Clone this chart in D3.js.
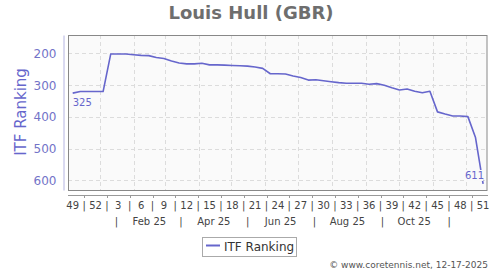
<!DOCTYPE html>
<html>
<head>
<meta charset="utf-8">
<script src="https://cdn.jsdelivr.net/npm/d3@7"></script>
<style>
  body { margin: 0; background: #fff; }
  text { font-family: "DejaVu Sans", sans-serif; }
</style>
</head>
<body>
<svg width="500" height="270"></svg>
<script>
// ITF ranking, weekly, week 49 of 2024 to week 51 of 2025
var weeks = [49, 50, 51, 52, 1, 2, 3, 4, 5, 6, 7, 8, 9, 10, 11, 12, 13, 14, 15, 16,
             17, 18, 19, 20, 21, 22, 23, 24, 25, 26, 27, 28, 29, 30, 31, 32, 33, 34, 35, 36,
             37, 38, 39, 40, 41, 42, 43, 44, 45, 46, 47, 48, 49, 50, 51];
var ranks = [325, 320, 320, 320, 320, 202, 202, 202, 204, 206, 207, 213, 216, 224, 230, 233, 233, 231, 236, 236,
             237, 238, 239, 240, 243, 247, 264, 264, 265, 271, 276, 284, 283, 286, 289, 292, 294, 294, 294, 297,
             295, 300, 308, 315, 312, 319, 324, 319, 384, 391, 397, 397, 399, 465, 611];
var firstDate = "2024-12-07", lastDate = "2025-12-17";
var yTicks = [200, 300, 400, 500, 600];
var monthLabels = ["Feb 25", "Apr 25", "Jun 25", "Aug 25", "Oct 25"];
var monthLabelDates = ["2025-02-15", "2025-04-15", "2025-06-15", "2025-08-15", "2025-10-15"];
var monthSepDates = ["2025-01-16", "2025-03-16", "2025-05-16", "2025-07-16", "2025-09-16", "2025-11-16"];

var margin = {top: 35, right: 13, bottom: 80, left: 68},
    width = 500 - margin.left - margin.right,
    height = 270 - margin.top - margin.bottom;

var svg = d3.select("svg");
var blue = "#6666cc";

var x = d3.scaleLinear().domain([0, ranks.length - 1]).range([72.7, 483.1]);
var xt = d3.scaleUtc().domain([new Date(firstDate), new Date(lastDate)]).range([72.7, 483.1]);
var y = d3.scaleLinear().domain([142, 630]).range([margin.top, margin.top + height]);

// title
svg.append("text")
    .attr("x", 251).attr("y", 19)
    .attr("text-anchor", "middle")
    .style("font-size", "18px").style("font-weight", "bold")
    .style("fill", "#6e6e6e")
    .text("Louis Hull (GBR)");

// plot background
svg.append("rect")
    .attr("x", margin.left + 0.5).attr("y", margin.top + 0.5)
    .attr("width", width - 0.5).attr("height", height)
    .style("fill", "#fafafa");

// grid
var months = d3.utcMonth.range(new Date(firstDate), new Date(lastDate));
svg.append("g").selectAll("line").data(months).enter().append("line")
    .attr("x1", function(d) { return Math.round(xt(d)) + 0.5; })
    .attr("x2", function(d) { return Math.round(xt(d)) + 0.5; })
    .attr("y1", margin.top).attr("y2", margin.top + height)
    .style("stroke", "#dcdcdc").style("stroke-dasharray", "4,3");
svg.append("g").selectAll("line").data(yTicks).enter().append("line")
    .attr("x1", margin.left).attr("x2", margin.left + width)
    .attr("y1", function(d) { return Math.round(y(d)) + 0.5; })
    .attr("y2", function(d) { return Math.round(y(d)) + 0.5; })
    .style("stroke", "#dcdcdc").style("stroke-dasharray", "4,3");

// plot border
svg.append("rect")
    .attr("x", margin.left + 0.5).attr("y", margin.top + 0.5)
    .attr("width", width - 0.5).attr("height", height)
    .style("fill", "none").style("stroke", "#888");

// y axis
var yAxis = svg.append("g")
    .attr("transform", "translate(63.5,0)")
    .call(d3.axisLeft(y).tickValues(yTicks).tickSize(0).tickPadding(7));
yAxis.select(".domain").style("stroke", "#b4b4e2");
yAxis.selectAll("text")
    .style("font-size", "12px").style("fill", "#7373c8")
    .style("font-family", "DejaVu Sans, sans-serif");

svg.append("text")
    .attr("transform", "translate(26,112) rotate(-90)")
    .attr("text-anchor", "middle")
    .style("font-size", "15px").style("fill", blue)
    .text("ITF Ranking");

// x axis line + ticks
var labelIdx = d3.range(0, ranks.length, 3);
var sepIdx = labelIdx.slice(0, -1).map(function(i) { return i + 1.5; });

svg.append("line")
    .attr("x1", margin.left).attr("x2", margin.left + width + 1)
    .attr("y1", 195.5).attr("y2", 195.5)
    .style("stroke", "#999");
svg.append("g").selectAll("line").data(sepIdx).enter().append("line")
    .attr("x1", function(d) { return Math.round(x(d)) + 0.5; })
    .attr("x2", function(d) { return Math.round(x(d)) + 0.5; })
    .attr("y1", 195.5).attr("y2", 198)
    .style("stroke", "#999");

var xg = svg.append("g").style("font-size", "10px").style("fill", "#444");
xg.selectAll(".wk").data(labelIdx).enter().append("text")
    .attr("class", "wk")
    .attr("x", function(d) { return x(d); })
    .attr("y", 208.5)
    .attr("text-anchor", "middle")
    .text(function(d) { return weeks[d]; });
xg.selectAll(".sep").data(sepIdx).enter().append("text")
    .attr("class", "sep")
    .attr("x", function(d) { return x(d); })
    .attr("y", 208.5)
    .attr("text-anchor", "middle")
    .text("|");
xg.selectAll(".mon").data(monthLabels).enter().append("text")
    .attr("class", "mon")
    .attr("x", function(d, i) { return xt(new Date(monthLabelDates[i])); })
    .attr("y", 225)
    .attr("text-anchor", "middle")
    .text(function(d) { return d; });
xg.selectAll(".msep").data(monthSepDates).enter().append("text")
    .attr("class", "msep")
    .attr("x", function(d) { return xt(new Date(d)); })
    .attr("y", 225)
    .attr("text-anchor", "middle")
    .text("|");

// ranking line
var line = d3.line()
    .x(function(d, i) { return x(i); })
    .y(function(d) { return y(d); });

svg.append("path")
    .datum(ranks)
    .attr("d", line)
    .style("fill", "none")
    .style("stroke", blue)
    .style("stroke-width", 1.6)
    .style("stroke-linejoin", "round");

// first / last value labels
var last = ranks.length - 1;
svg.append("text")
    .attr("x", x(0)).attr("y", y(ranks[0]) + 13)
    .style("font-size", "10px").style("fill", blue)
    .text(ranks[0]);
svg.append("rect")
    .attr("x", x(last) - 18).attr("y", y(ranks[last]) - 14)
    .attr("width", 18).attr("height", 11)
    .style("fill", "#fafafa");
svg.append("text")
    .attr("x", x(last) + 1).attr("y", y(ranks[last]) - 4.5)
    .attr("text-anchor", "end")
    .style("font-size", "10px").style("fill", blue)
    .text(ranks[last]);

// legend
svg.append("rect")
    .attr("x", 202.5).attr("y", 237.5)
    .attr("width", 94).attr("height", 19)
    .style("fill", "#fff").style("stroke", "#aaa");
svg.append("line")
    .attr("x1", 206).attr("x2", 220)
    .attr("y1", 245.5).attr("y2", 245.5)
    .style("stroke", blue).style("stroke-width", 2);
svg.append("text")
    .attr("x", 224).attr("y", 250.5)
    .style("font-size", "12px").style("fill", "#333")
    .text("ITF Ranking");

// credit
svg.append("text")
    .attr("x", 488).attr("y", 268)
    .attr("text-anchor", "end")
    .style("font-size", "9px").style("fill", "#555")
    .text("\u00a9 www.coretennis.net, 12-17-2025");
</script>
</body>
</html>
